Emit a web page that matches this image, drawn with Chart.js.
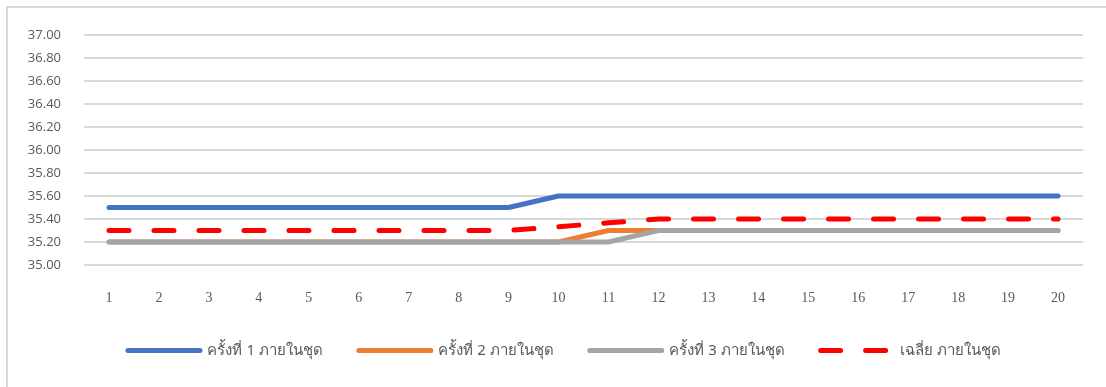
<!DOCTYPE html>
<html>
<head>
<meta charset="utf-8">
<script src="https://cdn.jsdelivr.net/npm/chart.js@4.4.1/dist/chart.umd.min.js"></script>
<style>
  html, body { margin: 0; padding: 0; background: #ffffff; }
  #wrap { width: 1106px; height: 387px; position: relative; }
</style>
</head>
<body>
<div id="wrap"><canvas id="c" width="1106" height="387"></canvas></div>
<script>
// Sample index within each set
const categories = ['1','2','3','4','5','6','7','8','9','10','11','12','13','14','15','16','17','18','19','20'];

// Readings per round
const round1 = [35.5,35.5,35.5,35.5,35.5,35.5,35.5,35.5,35.5,35.6,35.6,35.6,35.6,35.6,35.6,35.6,35.6,35.6,35.6,35.6];
const round2 = [35.2,35.2,35.2,35.2,35.2,35.2,35.2,35.2,35.2,35.2,35.3,35.3,35.3,35.3,35.3,35.3,35.3,35.3,35.3,35.3];
const round3 = [35.2,35.2,35.2,35.2,35.2,35.2,35.2,35.2,35.2,35.2,35.2,35.3,35.3,35.3,35.3,35.3,35.3,35.3,35.3,35.3];
const average = [35.3,35.3,35.3,35.3,35.3,35.3,35.3,35.3,35.3,35.333,35.367,35.4,35.4,35.4,35.4,35.4,35.4,35.4,35.4,35.4];

const seriesNames = ['ครั้งที่ 1 ภายในชุด', 'ครั้งที่ 2 ภายในชุด', 'ครั้งที่ 3 ภายในชุด', 'เฉลี่ย ภายในชุด'];

const yMin = 35, yMax = 37, yStep = 0.2;

const textColor = '#595959';
const gridColor = '#d9d9d9';

// Thin frame along the top and left edges
const framePlugin = {
  id: 'frame',
  beforeDraw(chart) {
    const ctx = chart.ctx;
    ctx.save();
    ctx.fillStyle = '#ffffff';
    ctx.fillRect(0, 0, chart.width, chart.height);
    ctx.strokeStyle = '#d9d9d9';
    ctx.lineWidth = 2;
    ctx.beginPath();
    ctx.moveTo(7, chart.height);
    ctx.lineTo(7, 7);
    ctx.lineTo(chart.width, 7);
    ctx.stroke();
    ctx.restore();
  }
};

// Center the legend row a little right of the canvas middle
const legendShift = {
  id: 'legendShift',
  afterLayout(chart) {
    if (chart.legend) {
      chart.legend.left = 46;
      chart.legend.right = chart.chartArea.right;
    }
  }
};

// Later series are painted over earlier ones
function lineSet(label, data, color, order, dash) {
  return {
    label, data, order,
    borderColor: color,
    backgroundColor: color,
    borderWidth: 5,
    borderCapStyle: 'round',
    borderJoinStyle: 'round',
    borderDash: dash || [],
    pointRadius: 0,
    pointHoverRadius: 0,
    tension: 0,
    fill: false
  };
}

new Chart(document.getElementById('c'), {
  type: 'line',
  data: {
    labels: categories,
    datasets: [
      lineSet(seriesNames[0], round1, '#4472C4', 3),
      lineSet(seriesNames[1], round2, '#ED7D31', 2),
      lineSet(seriesNames[2], round3, '#A5A5A5', 1),
      lineSet(seriesNames[3], average, '#FF0000', 0, [20, 25])
    ]
  },
  options: {
    responsive: false,
    animation: false,
    devicePixelRatio: 1,
    layout: { padding: { left: 0, right: 23, top: 35, bottom: 19 } },
    plugins: {
      tooltip: { enabled: false },
      legend: {
        position: 'bottom',
        labels: {
          usePointStyle: true,
          pointStyle: 'line',
          pointStyleWidth: 72,
          padding: 36,
          color: textColor,
          font: { family: "'Noto Sans', 'DejaVu Sans', sans-serif", size: 15 },
          generateLabels(chart) {
            return chart.data.datasets.map((ds, i) => ({
              text: ds.label,
              fillStyle: ds.borderColor,
              strokeStyle: ds.borderColor,
              lineWidth: 5,
              lineCap: 'round',
              lineDash: ds.borderDash,
              pointStyle: 'line',
              fontColor: textColor,
              hidden: false,
              datasetIndex: i
            }));
          }
        }
      }
    },
    scales: {
      x: {
        offset: true,
        grid: { display: false, drawTicks: false },
        border: { display: false },
        ticks: {
          color: textColor,
          padding: 25,
          maxRotation: 0,
          font: { family: "'Liberation Serif', serif", size: 14 }
        },
        afterFit(s) { s.height = 42; }
      },
      y: {
        min: yMin, max: yMax,
        grid: { color: gridColor, lineWidth: 2, drawTicks: false },
        border: { display: false },
        ticks: {
          stepSize: yStep,
          padding: 23,
          color: textColor,
          font: { family: "'Open Sans', 'Liberation Sans', sans-serif", size: 13 },
          callback: v => Number(v).toFixed(2)
        },
        afterFit(s) { s.width = 84; }
      }
    }
  },
  plugins: [framePlugin, legendShift]
});
</script>
</body>
</html>
